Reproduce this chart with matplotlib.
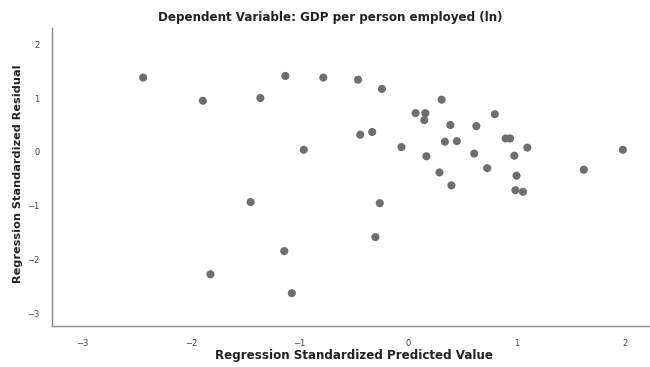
import matplotlib.pyplot as plt

# standardized predicted value vs standardized residual
pred = [-2.44, -1.89, -1.36, -1.13, -0.78, -0.46, -0.24, -0.96,
        -0.44, -0.33, -0.06, 0.07, 0.16, 0.15, 0.31, 0.39,
        0.63, 0.80, 0.34, 0.45, 0.17, 0.61, 0.90, 0.94,
        1.10, 0.98, 1.98, 0.29, 0.73, 1.00, 1.62, 0.40,
        0.99, 1.06, -1.45, -1.14, -1.82, -1.07, -0.26, -0.30]
resid = [1.38, 0.95, 1.00, 1.41, 1.38, 1.34, 1.17, 0.04,
         0.32, 0.37, 0.09, 0.72, 0.72, 0.59, 0.97, 0.50,
         0.48, 0.70, 0.19, 0.20, -0.08, -0.03, 0.25, 0.25,
         0.08, -0.07, 0.04, -0.38, -0.30, -0.44, -0.33, -0.62,
         -0.71, -0.74, -0.93, -1.84, -2.27, -2.62, -0.95, -1.58]
xticks = [-3, -2, -1, 0, 1, 2]
yticks = [-3, -2, -1, 0, 1, 2]

fig = plt.figure(figsize=(6.5, 3.67), dpi=100)
ax = fig.add_axes([52 / 650, 41 / 367, 598 / 650, 298 / 367])

ax.scatter(pred, resid, s=34, color='#6e6e6e', edgecolors='none', zorder=3)

ax.set_xlim(-3.28, 2.23)
ax.set_ylim(-3.23, 2.30)
ax.set_xticks(xticks)
ax.set_yticks(yticks)
ax.tick_params(length=0, labelsize=6, labelcolor='#444444', pad=9)

for side in ['top', 'right']:
    ax.spines[side].set_visible(False)
for side in ['left', 'bottom']:
    ax.spines[side].set_color('#888888')
    ax.spines[side].set_linewidth(1.0)

fig.text(330 / 650, 1 - 18 / 367, "Dependent Variable: GDP per person employed (ln)",
         ha='center', va='center', fontsize=8.6, fontweight='bold', color='#222222')
fig.text(354 / 650, 1 - 355 / 367, "Regression Standardized Predicted Value",
         ha='center', va='center', fontsize=8.6, fontweight='bold', color='#222222')
fig.text(18 / 650, 1 - 174 / 367, "Regression Standardized Residual", rotation=90,
         ha='center', va='center', fontsize=8.1, fontweight='bold', color='#222222')

fig.savefig("out.png", dpi=100)
